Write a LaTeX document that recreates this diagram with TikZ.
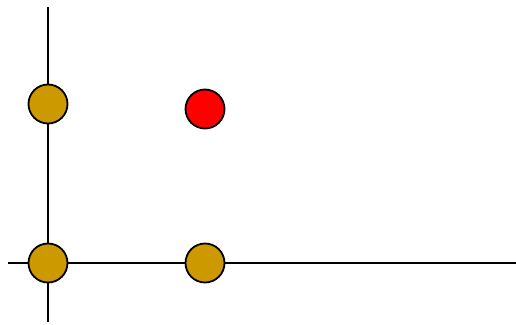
\documentclass[tikz,border=0pt]{standalone}
\definecolor{goldc}{RGB}{204,153,0}
\definecolor{redc}{RGB}{255,0,0}
\begin{document}
\begin{tikzpicture}[x=1pt,y=-1pt,
  dot/.style={circle,draw=black,line width=1.8pt,minimum size=39pt,inner sep=0pt},
  axis/.style={draw=black,line width=1.8pt}]
\useasboundingbox (0,0) rectangle (516,324);
\coordinate (vt) at (48,7);
\coordinate (vb) at (48,322);
\coordinate (hl) at (8,263);
\coordinate (hr) at (516,263);
\draw[axis] (vt) -- (vb);
\draw[axis] (hl) -- (hr);
\node[dot,fill=goldc] (a) at (48,104) {};
\node[dot,fill=redc] (b) at (205,109) {};
\node[dot,fill=goldc] (c) at (48,263) {};
\node[dot,fill=goldc] (d) at (205,263) {};
\end{tikzpicture}
\end{document}
